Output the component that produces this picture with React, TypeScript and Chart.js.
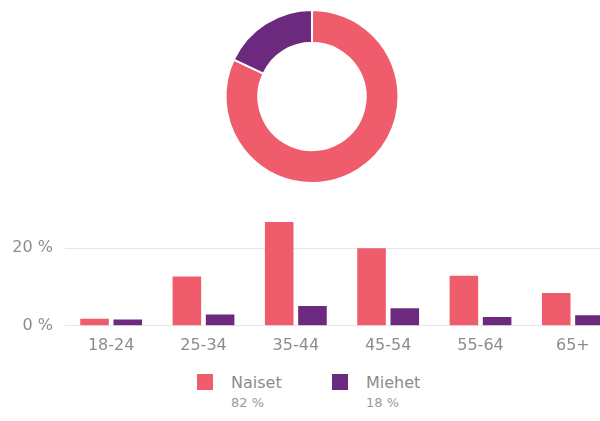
import React, { useEffect, useRef } from "react";
import { Chart, registerables } from "chart.js";

Chart.register(...registerables);

// ---- data ----
const AGE_GROUPS = ["18-24", "25-34", "35-44", "45-54", "55-64", "65+"];
const NAISET = [1.8, 12.7, 26.8, 20.0, 12.9, 8.5];
const MIEHET = [1.6, 2.9, 5.1, 4.5, 2.3, 2.7];
const GENDER_LABELS = ["Naiset", "Miehet"];
const GENDER_SHARE = [82, 18];
const Y_TICKS = [0, 20];
const Y_MAX = 30;

// ---- styles ----
const PINK = "#EF5C6B";
const PURPLE = "#6B2A7D";
const COLORS = [PINK, PURPLE];
const TEXT = "#8c8c8c";
const FONT = "'DejaVu Sans', sans-serif";

export default function App() {
  const donutRef = useRef<HTMLCanvasElement | null>(null);
  const barRef = useRef<HTMLCanvasElement | null>(null);

  useEffect(() => {
    const donut = new Chart(donutRef.current!, {
      type: "doughnut",
      data: {
        labels: GENDER_LABELS,
        datasets: [
          {
            data: GENDER_SHARE,
            backgroundColor: COLORS,
            borderColor: "#ffffff",
            borderWidth: 2,
          },
        ],
      },
      options: {
        responsive: false,
        animation: false,
        cutout: "62%",
        layout: { padding: { top: 9, bottom: 9 } },
        plugins: { legend: { display: false }, tooltip: { enabled: false } },
      },
    });

    const bar = new Chart(barRef.current!, {
      type: "bar",
      data: {
        labels: AGE_GROUPS,
        datasets: [
          {
            label: GENDER_LABELS[0],
            data: NAISET,
            backgroundColor: PINK,
            categoryPercentage: 0.72,
            barPercentage: 0.86,
          },
          {
            label: GENDER_LABELS[1],
            data: MIEHET,
            backgroundColor: PURPLE,
            categoryPercentage: 0.72,
            barPercentage: 0.86,
          },
        ],
      },
      options: {
        responsive: false,
        animation: false,
        layout: { padding: { top: 12, right: 5, bottom: 7, left: 0 } },
        plugins: { legend: { display: false }, tooltip: { enabled: false } },
        scales: {
          x: {
            grid: { display: false },
            border: { display: false },
            ticks: {
              color: TEXT,
              font: { family: FONT, size: 16 },
              padding: 2,
            },
          },
          y: {
            min: 0,
            max: Y_MAX,
            afterBuildTicks: (scale: any) => {
              scale.ticks = Y_TICKS.map((v) => ({ value: v }));
            },
            afterFit: (scale: any) => {
              scale.width = 65;
            },
            grid: { color: "#e6e6e6", drawTicks: false, lineWidth: 1 },
            border: { display: false },
            ticks: {
              color: TEXT,
              font: { family: FONT, size: 16 },
              padding: 12,
              callback: (v: any) => `${v} %`,
            },
          },
        },
      },
    });

    return () => {
      donut.destroy();
      bar.destroy();
    };
  }, []);

  return (
    <div
      style={{
        position: "fixed",
        left: 0,
        top: 0,
        width: 600,
        height: 421,
        overflow: "hidden",
        background: "#ffffff",
      }}
    >
      <div style={{ position: "relative", width: 624, height: 421 }}>
        <canvas
          ref={donutRef}
          width={624}
          height={193}
          style={{ position: "absolute", left: 0, top: 0, width: 624, height: 193 }}
        />
        <canvas
          ref={barRef}
          width={624}
          height={176}
          style={{ position: "absolute", left: 0, top: 188, width: 624, height: 176 }}
        />
        <div
          style={{
            position: "absolute",
            left: 197,
            top: 373,
            display: "flex",
            fontFamily: FONT,
          }}
        >
          {GENDER_LABELS.map((label, i) => (
            <div key={label} style={{ display: "flex", width: i === 0 ? 135 : "auto" }}>
              <div style={{ width: 16, height: 16, background: COLORS[i], marginTop: 1 }} />
              <div style={{ marginLeft: 18 }}>
                <div style={{ fontSize: 16, lineHeight: "20px", color: TEXT }}>{label}</div>
                <div style={{ fontSize: 13, lineHeight: "17px", color: "#9a9a9a", marginTop: 1 }}>
                  {GENDER_SHARE[i]} %
                </div>
              </div>
            </div>
          ))}
        </div>
      </div>
    </div>
  );
}
